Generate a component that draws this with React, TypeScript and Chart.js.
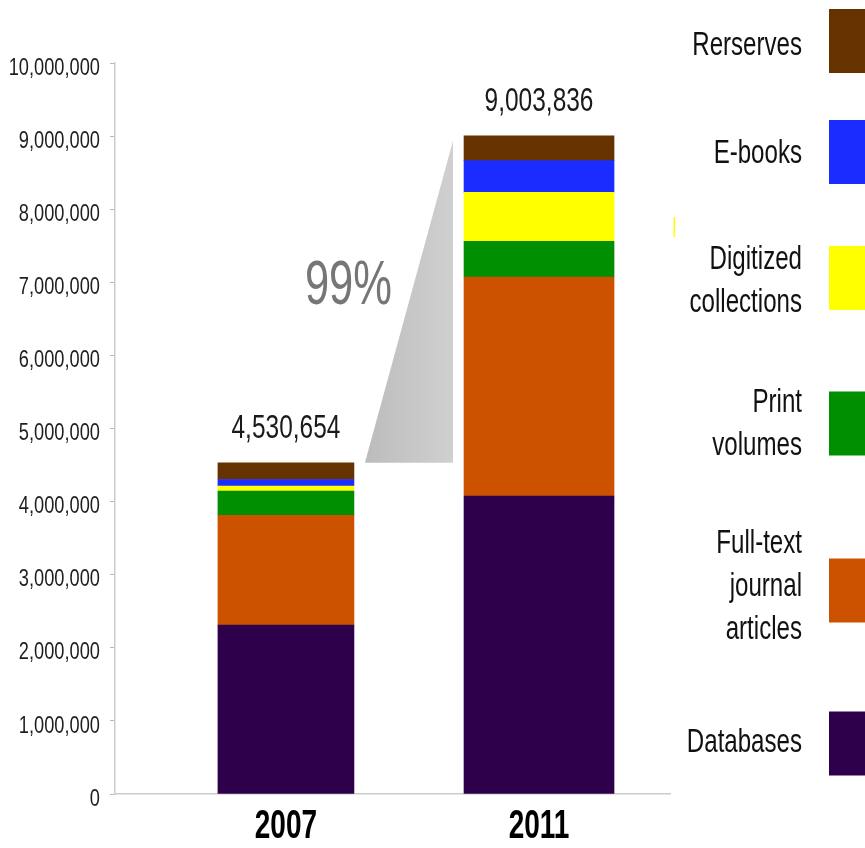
import React, { useEffect, useRef } from "react";
import { Chart, registerables } from "chart.js";

Chart.register(...registerables);

// ---- data ----
const years = ["2007", "2011"];
const yearPositions = [3.08, 7.64];
const seriesNames = [
  "Databases",
  "Full-text journal articles",
  "Print volumes",
  "Digitized collections",
  "E-books",
  "Rerserves",
];
const legendLines = [
  ["Databases"],
  ["Full-text", "journal", "articles"],
  ["Print", "volumes"],
  ["Digitized", "collections"],
  ["E-books"],
  ["Rerserves"],
];
const seriesColors = ["#2e004c", "#cc5200", "#008f00", "#ffff00", "#1a2cff", "#663300"];
const databases = [2312000, 4077000];
const fullText = [1500000, 2995000];
const printVolumes = [333000, 489000];
const digitized = [68000, 670000];
const eBooks = [89000, 433000];
const reserves = [228654, 339836];
const totals = [4530654, 9003836];
const growthLabel = "99%";
const yTicks = [0, 1000000, 2000000, 3000000, 4000000, 5000000, 6000000, 7000000, 8000000, 9000000, 10000000];

const seriesValues = [databases, fullText, printVolumes, digitized, eBooks, reserves];

// ---- layout / style ----
const FONT = "'Liberation Sans', Arial, Helvetica, sans-serif";
const W = 865;
const H = 848;
const barWidths = [136, 150];
const legendCenters = [743.5, 590.5, 423.5, 278, 152, 41];
const legendTextMid = [751.7, 596, 433.4, 290.5, 163.3, 55];

function drawText(ctx: CanvasRenderingContext2D, text: string, x: number, y: number, font: string, align: CanvasTextAlign, sx: number, color: string) {
  ctx.save();
  ctx.translate(x, y);
  ctx.scale(sx, 1);
  ctx.font = font;
  ctx.textAlign = align;
  ctx.textBaseline = "alphabetic";
  ctx.fillStyle = color;
  ctx.fillText(text, 0, 0);
  ctx.restore();
}

const overlayPlugin = {
  id: "overlay",
  afterDatasetsDraw(chart: any) {
    const { ctx } = chart;
    const xs = chart.scales.x;
    const ys = chart.scales.y;
    ctx.save();

    // y tick labels
    ys.ticks.forEach((t: any) => {
      const py = ys.getPixelForValue(t.value);
      drawText(ctx, Number(t.value).toLocaleString("en-US"), 100, py + 11.6, `24px ${FONT}`, "right", 0.76, "#1e1e1e");
    });

    // x tick labels
    years.forEach((yr, i) => {
      const px = xs.getPixelForValue(yearPositions[i]);
      drawText(ctx, yr, px, xs.top + 44, `bold 40px ${FONT}`, "center", 0.7, "#000000");
    });

    // growth wedge
    const x0 = xs.getPixelForValue(yearPositions[0]) + barWidths[0] / 2 + 11;
    const x1 = xs.getPixelForValue(yearPositions[1]) - barWidths[1] / 2 - 11;
    const yb = ys.getPixelForValue(totals[0]);
    const yt = ys.getPixelForValue(totals[1]) + 5;
    const g = ctx.createLinearGradient(x0, 0, x1, 0);
    g.addColorStop(0, "#bcbcbc");
    g.addColorStop(1, "#d0d0d0");
    ctx.fillStyle = g;
    ctx.beginPath();
    ctx.moveTo(x0, yb);
    ctx.lineTo(x1, yt);
    ctx.lineTo(x1, yb);
    ctx.closePath();
    ctx.fill();

    // growth label
    drawText(ctx, growthLabel, x0 - 16.5, yb - 159, `63px ${FONT}`, "center", 0.69, "#767676");

    // totals
    totals.forEach((t, i) => {
      const px = xs.getPixelForValue(yearPositions[i]);
      const py = ys.getPixelForValue(t);
      drawText(ctx, t.toLocaleString("en-US"), px, py - 24.5, `34px ${FONT}`, "center", 0.72, "#1a1a1a");
    });

    // legend
    const lh = 43;
    seriesNames.forEach((_, i) => {
      const cy = legendCenters[i];
      ctx.fillStyle = seriesColors[i];
      ctx.fillRect(829, cy - 32, 40, 64);
      const lines = legendLines[i];
      const start = legendTextMid[i] - ((lines.length - 1) * lh) / 2;
      lines.forEach((ln, j) => drawText(ctx, ln, 802, start + j * lh, `33px ${FONT}`, "right", 0.73, "#111111"));
    });

    // small stray mark
    ctx.fillStyle = "#ffff00";
    ctx.fillRect(673.5, 217, 1.5, 20);

    ctx.restore();
  },
};

export default function App() {
  const ref = useRef<HTMLCanvasElement | null>(null);

  useEffect(() => {
    if (!ref.current) return;
    const datasets: any[] = [];
    years.forEach((yr, yi) => {
      seriesNames.forEach((name, si) => {
        datasets.push({
          label: `${name} ${yr}`,
          data: [{ x: yearPositions[yi], y: seriesValues[si][yi] }],
          backgroundColor: seriesColors[si],
          borderWidth: 0,
          grouped: false,
          barThickness: barWidths[yi],
          maxBarThickness: barWidths[yi],
        });
      });
    });

    const chart = new Chart(ref.current, {
      type: "bar",
      data: { datasets },
      options: {
        animation: false,
        responsive: false,
        devicePixelRatio: 1,
        layout: { padding: { top: 63, right: 195, bottom: 0, left: 0 } },
        plugins: { legend: { display: false }, tooltip: { enabled: false } },
        scales: {
          x: {
            type: "linear",
            offset: false,
            min: 0,
            max: 10,
            afterBuildTicks: (s: any) => {
              s.ticks = yearPositions.map((v) => ({ value: v }));
            },
            afterFit: (s: any) => {
              s.height = 54;
            },
            ticks: { display: false },
            grid: { display: false, drawTicks: false },
            border: { display: true, color: "#cccccc", width: 1.5 },
          },
          y: {
            stacked: true,
            min: 0,
            max: 10000000,
            afterBuildTicks: (s: any) => {
              s.ticks = yTicks.map((v) => ({ value: v }));
            },
            afterFit: (s: any) => {
              s.width = 115;
            },
            ticks: { display: false },
            grid: { display: true, drawOnChartArea: false, drawTicks: true, tickLength: 5, color: "#bbbbbb" },
            border: { display: true, color: "#cccccc", width: 1.5 },
          },
        },
      },
      plugins: [overlayPlugin],
    });
    return () => chart.destroy();
  }, []);

  return (
    <div style={{ position: "fixed", left: 0, top: 0, width: W, height: H, background: "#ffffff" }}>
      <canvas ref={ref} width={W} height={H} style={{ width: W, height: H, display: "block" }} />
    </div>
  );
}
